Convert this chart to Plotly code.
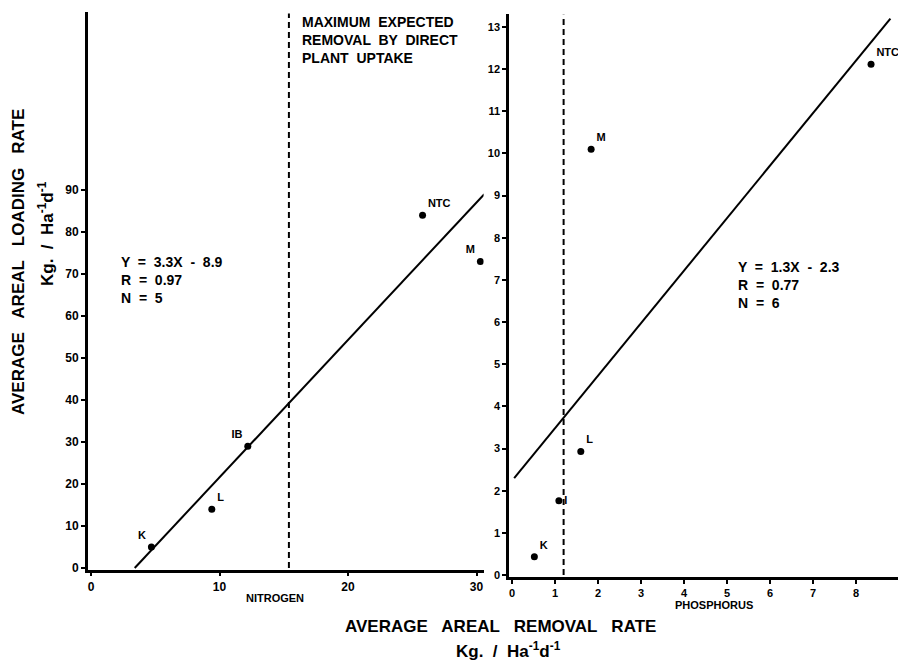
import plotly.graph_objects as go

# ---------------- data ----------------
n_sites = ["K", "L", "IB", "NTC", "M"]
n_removal = [4.7, 9.4, 12.2, 25.8, 30.3]
n_loading = [5.0, 14.0, 29.0, 84.0, 73.0]
n_fit_x = [3.4, 30.6]
n_fit_y = [0.0, 89.0]
n_max_uptake = 15.4
n_xticks = [0, 10, 20, 30]
n_yticks = [0, 10, 20, 30, 40, 50, 60, 70, 80, 90]
n_stats = ["Y  =  3.3X  -  8.9", "R  =  0.97", "N  =  5"]

p_sites = ["K", "I", "L", "M", "NTC"]
p_removal = [0.52, 1.09, 1.6, 1.84, 8.35]
p_loading = [0.43, 1.76, 2.93, 10.1, 12.12]
p_fit_x = [0.05, 8.8]
p_fit_y = [2.3, 13.2]
p_max_uptake = 1.2
p_xticks = [0, 1, 2, 3, 4, 5, 6, 7, 8, 9]
p_yticks = list(range(0, 14))
p_stats = ["Y  =  1.3X  -  2.3", "R  =  0.77", "N  =  6"]

uptake_text = "MAXIMUM  EXPECTED<br>REMOVAL  BY  DIRECT<br>PLANT  UPTAKE"

# ---------------- styling ----------------
W, H = 898, 664
FONT = "Liberation Sans"
BLACK = "#000000"


def fx(px):
    return px / W


def fy(py):
    return 1 - py / H


def bold(vals):
    return [f"<b>{v}</b>" for v in vals]


fig = go.Figure()

# Nitrogen panel
fig.add_trace(go.Scatter(x=n_fit_x, y=n_fit_y, mode="lines",
                         line=dict(color=BLACK, width=2), xaxis="x", yaxis="y",
                         hoverinfo="skip", showlegend=False))
fig.add_trace(go.Scatter(x=[n_max_uptake, n_max_uptake], y=[0, 132], mode="lines",
                         line=dict(color=BLACK, width=2, dash="6px,4px"),
                         xaxis="x", yaxis="y", showlegend=False))
fig.add_trace(go.Scatter(x=n_removal, y=n_loading, mode="markers+text",
                         text=bold(n_sites),
                         textposition=["top left", "top right", "top left", "top right", "top left"],
                         textfont=dict(family=FONT, size=11, color=BLACK),
                         marker=dict(color=BLACK, size=7),
                         xaxis="x", yaxis="y", showlegend=False))

# Phosphorus panel
fig.add_trace(go.Scatter(x=p_fit_x, y=p_fit_y, mode="lines",
                         line=dict(color=BLACK, width=2), xaxis="x2", yaxis="y2",
                         hoverinfo="skip", showlegend=False))
fig.add_trace(go.Scatter(x=[p_max_uptake, p_max_uptake], y=[0, 13.3], mode="lines",
                         line=dict(color=BLACK, width=2, dash="6px,4px"),
                         xaxis="x2", yaxis="y2", showlegend=False))
fig.add_trace(go.Scatter(x=p_removal, y=p_loading, mode="markers+text",
                         text=bold(p_sites),
                         textposition=["top right", "middle right", "top right", "top right", "top right"],
                         textfont=dict(family=FONT, size=11, color=BLACK),
                         marker=dict(color=BLACK, size=7),
                         xaxis="x2", yaxis="y2", showlegend=False))

axis_common = dict(showgrid=False, zeroline=False, showline=True, linecolor=BLACK,
                   linewidth=2.5, ticks="outside", tickcolor=BLACK, tickwidth=2,
                   ticklen=4, automargin=False, fixedrange=True)

fig.update_layout(
    width=W, height=H,
    margin=dict(l=0, r=0, t=0, b=0),
    paper_bgcolor="white", plot_bgcolor="white",
    showlegend=False,
    xaxis=dict(**axis_common, domain=[fx(87.8), fx(483.6)], range=[-0.25, 30.55],
               tickvals=n_xticks, ticktext=bold(n_xticks), anchor="y",
               tickfont=dict(family=FONT, size=12, color=BLACK)),
    yaxis=dict(**axis_common, domain=[fy(569.7), fy(11.5)], range=[-0.4, 132.5],
               tickvals=n_yticks, ticktext=bold(n_yticks), anchor="x",
               tickfont=dict(family=FONT, size=12, color=BLACK)),
    xaxis2=dict(**axis_common, domain=[fx(509), 1.0], range=[-0.07, 8.977],
                tickvals=p_xticks, ticktext=bold(p_xticks), anchor="y2",
                tickfont=dict(family=FONT, size=11, color=BLACK)),
    yaxis2=dict(**axis_common, domain=[fy(577.1), fy(14.4)], range=[-0.05, 13.3],
                tickvals=p_yticks, ticktext=bold(p_yticks), anchor="x2",
                tickfont=dict(family=FONT, size=11, color=BLACK)),
)

ann_font = dict(family=FONT, size=14, color=BLACK)
stat_font = dict(family=FONT, size=14, color=BLACK)
title_font = dict(family=FONT, size=17, color=BLACK)
annotations = [
    dict(text=f"<b>{uptake_text}</b>", x=16.3, y=132.5, xref="x", yref="y", xanchor="left",
         yanchor="top", align="left", showarrow=False, font=ann_font),
    dict(text=f"<b>{uptake_text}</b>", x=1.5, y=13.35, xref="x2", yref="y2", xanchor="left",
         yanchor="top", align="left", showarrow=False, font=ann_font),
    dict(text="<b>" + "<br>".join(n_stats) + "</b>", x=2.2, y=75.2, xref="x", yref="y",
         xanchor="left", yanchor="top", align="left", showarrow=False, font=stat_font),
    dict(text="<b>" + "<br>".join(p_stats) + "</b>", x=5.2, y=7.55, xref="x2", yref="y2",
         xanchor="left", yanchor="top", align="left", showarrow=False, font=stat_font),
    dict(text="<b>NITROGEN</b>", x=fx(275), y=fy(598), xref="paper", yref="paper",
         xanchor="center", yanchor="middle", showarrow=False,
         font=dict(family=FONT, size=11, color=BLACK)),
    dict(text="<b>PHOSPHORUS</b>", x=fx(714), y=fy(605), xref="paper", yref="paper",
         xanchor="center", yanchor="middle", showarrow=False,
         font=dict(family=FONT, size=11, color=BLACK)),
    dict(text="<b>AVERAGE   AREAL   LOADING   RATE</b>", x=fx(18), y=fy(262), xref="paper",
         yref="paper", textangle=-90, xanchor="center", yanchor="middle", showarrow=False,
         font=title_font),
    dict(text="<b>Kg.  /  Ha<sup>-1</sup>d<sup>-1</sup></b>", x=fx(46), y=fy(234), xref="paper",
         yref="paper", textangle=-90, xanchor="center", yanchor="middle", showarrow=False,
         font=dict(family=FONT, size=17, color=BLACK)),
    dict(text="<b>AVERAGE   AREAL   REMOVAL   RATE</b>", x=fx(500), y=fy(626), xref="paper",
         yref="paper", xanchor="center", yanchor="middle", showarrow=False, font=title_font),
    dict(text="<b>Kg.  /  Ha<sup>-1</sup>d<sup>-1</sup></b>", x=fx(508), y=fy(650), xref="paper",
         yref="paper", xanchor="center", yanchor="middle", showarrow=False,
         font=dict(family=FONT, size=17, color=BLACK)),
]
fig.update_layout(annotations=annotations)

fig.write_html("out.html", config={"displayModeBar": False},
               post_script="document.body.style.margin='0';")
